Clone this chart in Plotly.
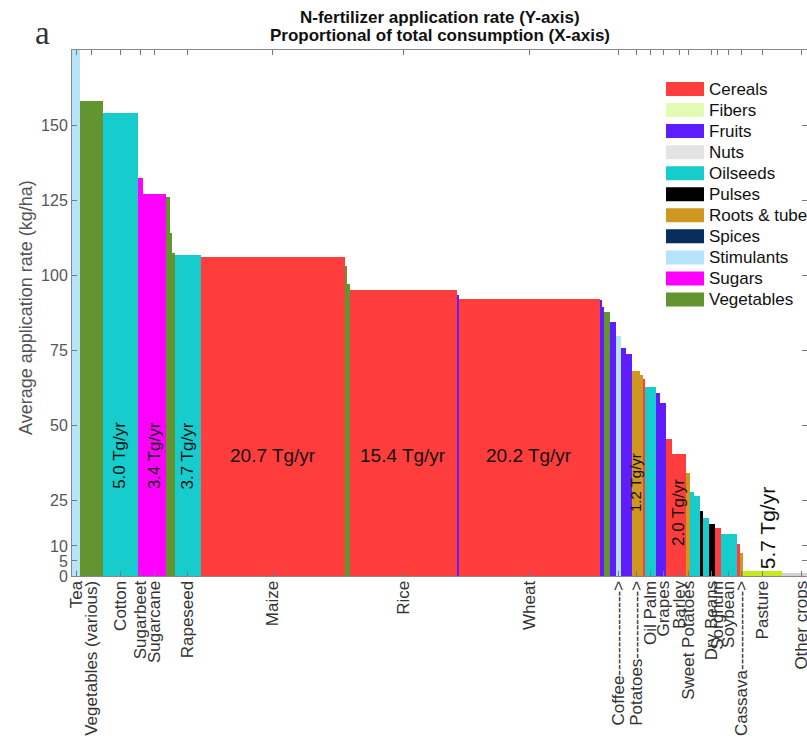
import plotly.graph_objects as go

# ---- data -------------------------------------------------------------
# crop name shown under the axis ("" for unlabelled slivers)
crop_names = [
    "Tea", "Vegetables (various)", "Cotton", "Sugarbeet", "Sugarcane", "", "", "",
    "Rapeseed", "Maize", "", "", "Rice", "", "Wheat", "", "", "", "",
    "Coffee", "", "", "Potatoes", "", "", "Oil Palm", "", "Grapes", "",
    "Barley", "Sweet Potatoes", "", "", "", "", "Dry Beans", "Sorghum",
    "Soybean", "", "Cassava", "Pasture", "Other crops",
]
crop_groups = [
    "Stimulants", "Vegetables", "Oilseeds", "Sugars", "Sugars", "Vegetables",
    "Vegetables", "Vegetables", "Oilseeds", "Cereals", "Vegetables", "Vegetables",
    "Cereals", "Fruits", "Cereals", "Fruits", "Fruits", "Vegetables", "Fruits",
    "Stimulants", "Fruits", "Fruits", "Roots & tubers", "Roots & tubers", "Cereals",
    "Oilseeds", "Fruits", "Fruits", "Cereals", "Cereals", "Roots & tubers",
    "Oilseeds", "Oilseeds", "Pulses", "Oilseeds", "Pulses", "Cereals", "Oilseeds",
    "Cereals", "Roots & tubers", "Pasture", "Other",
]
# N consumption of each crop (Tg/yr) -> bar width
consumption_tg = [
    1.15, 3.25, 5.0, 0.75, 3.4, 0.45, 0.35, 0.4, 3.7, 20.7, 0.35, 0.35, 15.4,
    0.25, 20.2, 0.35, 0.3, 0.9, 0.75, 0.8, 0.7, 0.85, 1.2, 0.3, 0.3, 1.65, 0.6,
    0.85, 0.85, 2.0, 0.6, 0.5, 0.95, 0.45, 0.8, 0.8, 0.95, 2.2, 0.45, 0.4, 5.7, 5.5,
]
# average N application rate (kg/ha) -> bar height
rate_kg_ha = [
    190, 158, 154, 132.5, 127, 126, 114, 107.5, 106.8, 106.2, 103, 97, 95,
    93.5, 92.3, 91.8, 89.5, 87.8, 84.4, 80, 76, 74, 68.3, 67, 65.6, 62.8, 61,
    57.5, 45.6, 40.6, 34.4, 28, 26.5, 21.7, 19.4, 17.2, 16.1, 13.9, 10.6, 7.8,
    1.7, 0.9,
]
# crops whose name is tied to its bar with a dashed arrow
arrow_dashes = {"Coffee": 15, "Potatoes": 12, "Cassava": 14}

legend_groups = ["Cereals", "Fibers", "Fruits", "Nuts", "Oilseeds", "Pulses",
                 "Roots & tubers", "Spices", "Stimulants", "Sugars", "Vegetables"]

# consumption labels: crop, value, y (kg/ha), rotated?, font size
tg_label_crops = ["Cotton", "Sugarcane", "Rapeseed", "Maize", "Rice", "Wheat",
                  "Potatoes", "Barley", "Pasture"]
tg_label_values = [5.0, 3.4, 3.7, 20.7, 15.4, 20.2, 1.2, 2.0, 5.7]
tg_label_y = [40, 40, 40, 40, 40, 40, 31, 21, 16]
tg_label_rotated = [True, True, True, False, False, False, True, True, True]
tg_label_size = [17, 17, 17, 19, 19, 19, 15, 17, 21]

y_ticks = [0, 5, 10, 25, 50, 75, 100, 125, 150]

# ---- styles -----------------------------------------------------------
group_colors = {
    "Cereals": "#ff3d3d", "Fibers": "#e4fbb4", "Fruits": "#5e1cff",
    "Nuts": "#e3e3e3", "Oilseeds": "#17cccc", "Pulses": "#000000",
    "Roots & tubers": "#cf971f", "Spices": "#062d5c", "Stimulants": "#b5e3fa",
    "Sugars": "#ff00ff", "Vegetables": "#62952f", "Pasture": "#c4ec1c",
    "Other": "#d2d2d2",
}
FONT = "Liberation Sans, Arial, Helvetica, sans-serif"

W, H = 807, 744
ML, MR, MT, MB = 72, 0, 50, 168
PW, PH = W - ML - MR, H - MT - MB
X_MAX = 105.45


def px_x(px):
    return (px - ML) / PW


def px_y(py):
    return (H - MB - py) / PH


# ---- bar geometry from cumulative consumption -------------------------
centers = []
acc = 0.0
for w in consumption_tg:
    centers.append(acc + w / 2)
    acc += w

colors = [group_colors[g] for g in crop_groups]

fig = go.Figure()
fig.add_trace(go.Bar(
    x=centers, y=rate_kg_ha, width=consumption_tg,
    marker=dict(color=colors, line=dict(width=0)),
    hovertext=[f"{n} ({g})" for n, g in zip(crop_names, crop_groups)],
    showlegend=False,
))

tick_vals, tick_text = [], []
for name, c in zip(crop_names, centers):
    if not name:
        continue
    tick_vals.append(c)
    if name in arrow_dashes:
        tick_text.append(name + "-" * arrow_dashes[name] + ">")
    else:
        tick_text.append(name)

annotations = []
# consumption labels inside the bars
for crop, val, yv, rot, size in zip(tg_label_crops, tg_label_values, tg_label_y,
                                     tg_label_rotated, tg_label_size):
    i = crop_names.index(crop)
    annotations.append(dict(
        x=centers[i], y=yv, xref="x", yref="y", showarrow=False,
        text=f"{val:.1f} Tg/yr", textangle=-90 if rot else 0,
        xshift=6 if crop == "Pasture" else 0,
        font=dict(family=FONT, size=size, color="#111111"),
    ))

# legend drawn as wide swatches with labels
shapes = []
for k, g in enumerate(legend_groups):
    yc = 89 + 21.05 * k
    shapes.append(dict(
        type="rect", xref="paper", yref="paper",
        x0=px_x(666), x1=px_x(704), y0=px_y(yc + 7), y1=px_y(yc - 7),
        fillcolor=group_colors[g], line=dict(width=0), layer="above",
    ))
    annotations.append(dict(
        x=px_x(707), y=px_y(yc), xref="paper", yref="paper", showarrow=False,
        xanchor="left", yanchor="middle", text=g,
        font=dict(family=FONT, size=17, color="#111111"),
    ))

# two-line bold title
for line, yc in [("N-fertilizer application rate (Y-axis)", 17),
                 ("Proportional of total consumption (X-axis)", 35)]:
    annotations.append(dict(
        x=0.5, y=px_y(yc), xref="paper", yref="paper", showarrow=False,
        xanchor="center", yanchor="middle", text=f"<b>{line}</b>",
        font=dict(family=FONT, size=17, color="#111111"),
    ))
# panel letter and y axis title
annotations.append(dict(
    x=px_x(42), y=px_y(33), xref="paper", yref="paper", showarrow=False,
    xanchor="center", yanchor="middle", text="a",
    font=dict(family="Liberation Serif, Times New Roman, serif", size=33,
              color="#333333"),
))
annotations.append(dict(
    x=px_x(26), y=px_y(308), xref="paper", yref="paper", showarrow=False,
    xanchor="center", yanchor="middle", textangle=-90,
    text="Average application rate (kg/ha)",
    font=dict(family=FONT, size=18, color="#555555"),
))

fig.update_layout(
    width=W, height=H,
    margin=dict(l=ML, r=MR, t=MT, b=MB, pad=0, autoexpand=False),
    paper_bgcolor="white", plot_bgcolor="white",
    bargap=0,
    shapes=shapes, annotations=annotations,
    showlegend=False,
    font=dict(family=FONT, size=16, color="#333333"),
)
fig.update_xaxes(
    range=[0, X_MAX], tickmode="array", tickvals=tick_vals, ticktext=tick_text,
    tickangle=-90, ticks="inside", ticklen=5, tickcolor="#777777",
    ticklabeloverflow="allow", ticklabelstandoff=-3, automargin=False,
    showline=True, linecolor="#888888", linewidth=1, mirror="ticks",
    showgrid=False, zeroline=False,
    tickfont=dict(family=FONT, size=17, color="#333333"),
)
fig.update_yaxes(
    range=[0, 175], tickmode="array", tickvals=y_ticks, automargin=False,
    ticks="inside", ticklen=5, tickcolor="#777777",
    showline=True, linecolor="#888888", linewidth=1, mirror="ticks",
    showgrid=False, zeroline=False,
    tickfont=dict(family=FONT, size=16, color="#555555"),
)

fig.write_html("out.html")
